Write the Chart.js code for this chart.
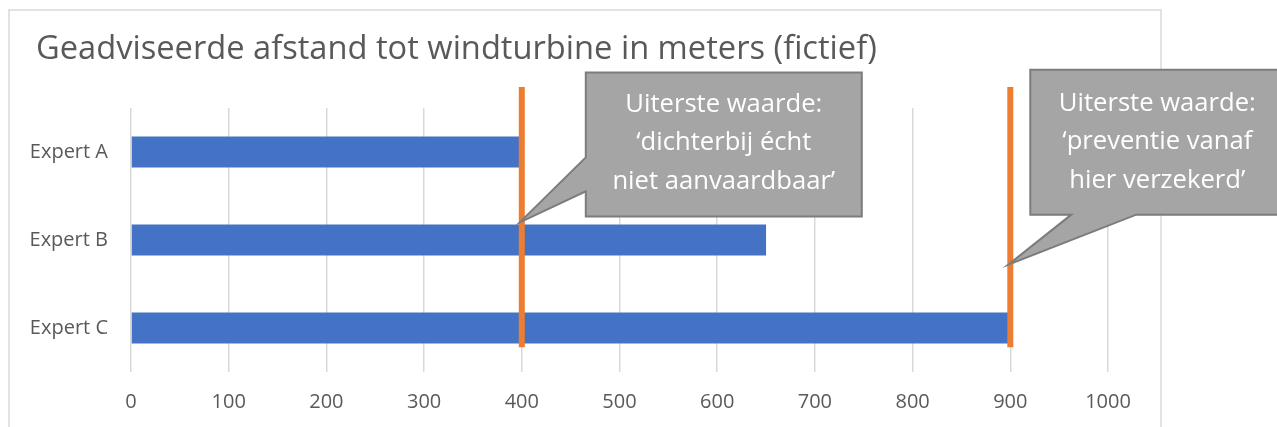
<!DOCTYPE html>
<html>
<head>
<meta charset="utf-8">
<script src="https://cdn.jsdelivr.net/npm/chart.js@4/dist/chart.umd.min.js"></script>
<style>
  html, body { margin: 0; padding: 0; background: #ffffff; }
  #wrap { width: 1277px; height: 427px; position: relative; }
</style>
</head>
<body>
<div id="wrap"><canvas id="c" width="1277" height="427"></canvas></div>
<script>
// ---- data ----
const chartTitle = 'Geadviseerde afstand tot windturbine in meters (fictief)';
const categories = ['Expert A', 'Expert B', 'Expert C'];
const adviceValues = [400, 650, 900];
const xTickValues = [0, 100, 200, 300, 400, 500, 600, 700, 800, 900, 1000];
const limitValues = [400, 900];
const limitTexts = [
  ['Uiterste waarde:', '\u2018dichterbij \u00e9cht', 'niet aanvaardbaar\u2019'],
  ['Uiterste waarde:', '\u2018preventie vanaf', 'hier verzekerd\u2019']
];
const calloutTipCategory = [0.8, 1.28];
const limitLineCategoryRange = [-0.74, 2.22];

// ---- styling ----
const FAMILY = '"Open Sans", sans-serif';
const TEXT_GREY = '#595959';
const BAR_BLUE = '#4472c4';
const ORANGE = '#ed7d31';

// size fonts so text widths match the reference layout
function fitSize(text, targetWidth) {
  const m = document.createElement('canvas').getContext('2d');
  m.font = '100px ' + FAMILY;
  return 100 * targetWidth / m.measureText(text).width;
}

const decorPlugin = {
  id: 'decor',
  beforeDraw(chart) {
    const ctx = chart.ctx;
    ctx.save();
    ctx.fillStyle = '#ffffff';
    ctx.fillRect(0, 0, chart.width, chart.height);
    // chart frame
    ctx.strokeStyle = '#d9d9d9';
    ctx.lineWidth = 1.5;
    ctx.beginPath();
    ctx.moveTo(9, chart.height + 5);
    ctx.lineTo(9, 10);
    ctx.lineTo(1161, 10);
    ctx.lineTo(1161, chart.height + 5);
    ctx.stroke();
    // title
    ctx.fillStyle = TEXT_GREY;
    ctx.font = fitSize(chartTitle, 841).toFixed(2) + 'px ' + FAMILY;
    ctx.textAlign = 'left';
    ctx.textBaseline = 'middle';
    ctx.fillText(chartTitle, 36, 50);
    ctx.restore();
  },
  afterDatasetsDraw(chart) {
    const ctx = chart.ctx;
    const xs = chart.scales.x, ys = chart.scales.y;
    ctx.save();
    // limit lines
    ctx.strokeStyle = ORANGE;
    ctx.lineWidth = 6;
    limitValues.forEach(v => {
      const px = xs.getPixelForValue(v);
      ctx.beginPath();
      ctx.moveTo(px, ys.getPixelForValue(limitLineCategoryRange[0]));
      ctx.lineTo(px, ys.getPixelForValue(limitLineCategoryRange[1]));
      ctx.stroke();
    });
    // callouts
    const shapes = [
      (tx, ty) => [ // box to the right, pointer from left edge
        [tx + 66, ty - 150], [tx + 342, ty - 150], [tx + 342, ty - 6],
        [tx + 66, ty - 6], [tx + 66, ty - 31], [tx, ty], [tx + 66, ty - 65]
      ],
      (tx, ty) => [ // box above-right, pointer from bottom edge
        [tx + 22, ty - 195], [tx + 280, ty - 195], [tx + 280, ty - 50],
        [tx + 128, ty - 50], [tx, ty], [tx + 63, ty - 50], [tx + 22, ty - 50]
      ]
    ];
    const textCenters = [
      (tx, ty) => [tx + 204, ty - 118],
      (tx, ty) => [tx + 149, ty - 161]
    ];
    const calloutSize = fitSize(limitTexts[0][0], 197).toFixed(2);
    limitValues.forEach((v, i) => {
      const tx = xs.getPixelForValue(v) - 2;
      const ty = ys.getPixelForValue(calloutTipCategory[i]);
      const pts = shapes[i](tx, ty);
      ctx.beginPath();
      pts.forEach((p, k) => k ? ctx.lineTo(p[0], p[1]) : ctx.moveTo(p[0], p[1]));
      ctx.closePath();
      ctx.fillStyle = '#a5a5a5';
      ctx.fill();
      ctx.strokeStyle = '#7c7c7c';
      ctx.lineWidth = 2;
      ctx.lineJoin = 'miter';
      ctx.stroke();
      const [cx, cy] = textCenters[i](tx, ty);
      ctx.fillStyle = '#ffffff';
      ctx.font = calloutSize + 'px ' + FAMILY;
      ctx.textAlign = 'center';
      ctx.textBaseline = 'middle';
      limitTexts[i].forEach((line, k) => ctx.fillText(line, cx, cy + k * 38.5));
    });
    ctx.restore();
  }
};

new Chart(document.getElementById('c'), {
  type: 'bar',
  data: {
    labels: categories,
    datasets: [{
      data: adviceValues,
      backgroundColor: BAR_BLUE,
      borderWidth: 0,
      barPercentage: 0.352,
      categoryPercentage: 1
    }]
  },
  options: {
    indexAxis: 'y',
    responsive: false,
    animation: false,
    devicePixelRatio: 1,
    layout: { padding: { top: 108, right: 169, left: 0, bottom: 0 } },
    plugins: { legend: { display: false }, tooltip: { enabled: false }, title: { display: false } },
    scales: {
      x: {
        type: 'linear',
        min: xTickValues[0],
        max: xTickValues[xTickValues.length - 1],
        afterBuildTicks(scale) { scale.ticks = xTickValues.map(v => ({ value: v })); },
        afterFit(scale) { scale.height = 55; },
        grid: { color: '#d9d9d9', lineWidth: 1.5, drawTicks: false },
        border: { display: false },
        ticks: {
          color: TEXT_GREY, font: { family: FAMILY, size: 20 }, padding: 18, maxRotation: 0,
          callback: v => String(v)
        }
      },
      y: {
        afterFit(scale) { scale.width = 131; },
        grid: { display: false, drawTicks: false },
        border: { display: false },
        ticks: { color: TEXT_GREY, font: { family: FAMILY, size: 20 }, padding: 23 }
      }
    }
  },
  plugins: [decorPlugin]
});
</script>
</body>
</html>
